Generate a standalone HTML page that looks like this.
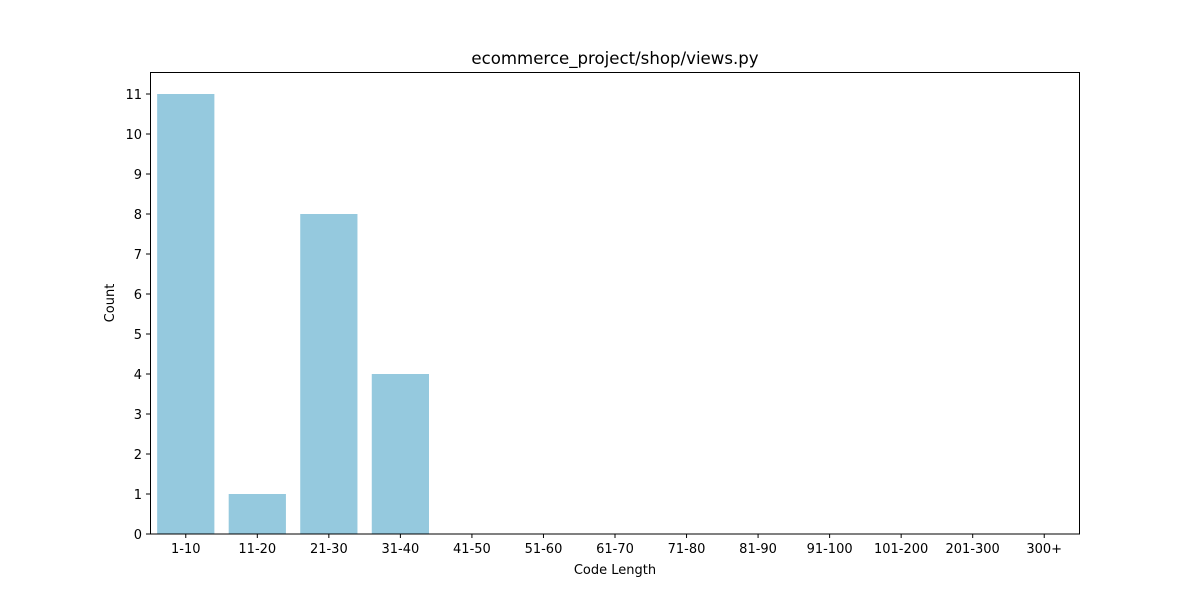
<!DOCTYPE html>
<html><head><meta charset="utf-8"><style>
body{margin:0;background:#fff;}
svg text{font-family:"DejaVu Sans","Liberation Sans",sans-serif;fill:#000;}
</style></head><body>
<svg id="chart" width="1200" height="600" xmlns="http://www.w3.org/2000/svg">
<rect width="1200" height="600" fill="#fff"/>
<text x="615" y="64" font-size="16.6" text-anchor="middle">ecommerce_project/shop/views.py</text>
<g id="bars"></g>
<g id="xt"></g><g id="yt"></g>
<rect x="150.5" y="72.5" width="929" height="461.5" fill="none" stroke="#000" stroke-width="1"/>
<text x="615" y="574" font-size="13" text-anchor="middle">Code Length</text>
<text x="114" y="303" font-size="13" text-anchor="middle" transform="rotate(-90 114 303)">Count</text>
</svg>
<script>
const categories=["1-10","11-20","21-30","31-40","41-50","51-60","61-70","71-80","81-90","91-100","101-200","201-300","300+"];
const counts=[11,1,8,4,0,0,0,0,0,0,0,0,0];
const yTicks=[0,1,2,3,4,5,6,7,8,9,10,11];
const NS="http://www.w3.org/2000/svg";
const L=150,R=1080,T=72,B=534,yMax=11.55;
const bw=(R-L)/categories.length;
const x=i=>L+bw*(i+0.5);
const y=v=>B-(v/yMax)*(B-T);
const bars=document.getElementById('bars'),xt=document.getElementById('xt'),yt=document.getElementById('yt');
function mk(t,a){const e=document.createElementNS(NS,t);for(const k in a)e.setAttribute(k,a[k]);return e;}
categories.forEach((c,i)=>{
 const r=mk('rect',{x:x(i)-bw*0.4,y:y(counts[i]),width:bw*0.8,height:B-y(counts[i]),fill:'#95c9de'});
 
 
 bars.appendChild(r);
 const tk=mk('line',{x1:x(i),x2:x(i),y1:B,y2:B+4,stroke:'#000'});
 
 
 xt.appendChild(tk);
 const tx=mk('text',{x:x(i),y:B+19,'font-size':13,'text-anchor':'middle'});
 tx.textContent=c;
 
 
 xt.appendChild(tx);
});
yTicks.forEach(v=>{
 const tk=mk('line',{x1:L-4,x2:L,y1:y(v),y2:y(v),stroke:'#000'});
 
 
 yt.appendChild(tk);
 const tx=mk('text',{x:L-8,y:y(v)+5,'font-size':13,'text-anchor':'end'});
 tx.textContent=v;
 
 
 yt.appendChild(tx);
});
</script>
</body></html>
